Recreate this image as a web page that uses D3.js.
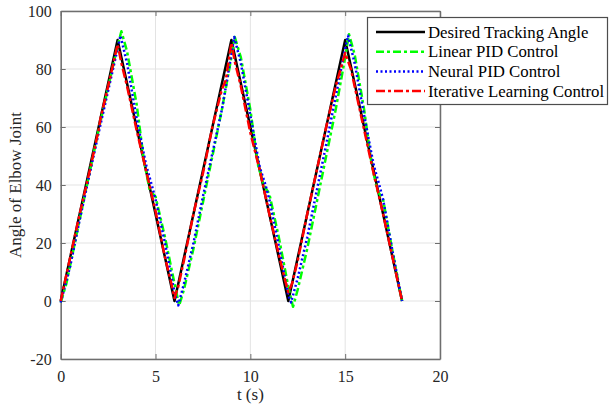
<!DOCTYPE html>
<html><head><meta charset="utf-8">
<script src="https://cdn.jsdelivr.net/npm/d3@7"></script>
<style>body{margin:0;background:#fff}svg{display:block}text{font-family:'Liberation Serif','Times New Roman',serif}</style>
</head><body>
<svg id="c" width="609" height="407"></svg>
<script>
const xTicks = [0,5,10,15,20];
const yTicks = [-20,0,20,40,60,80,100];
const seriesNames = ["Desired Tracking Angle","Linear PID Control","Neural PID Control","Iterative Learning Control"];
const seriesColors = ["#000000","#00ff00","#0000ff","#ff0000"];

const desiredT = [0,3,6,9,12,15,18];
const desiredV = [0,90,0,90,0,90,0];

const linearT = [0,0.3,1,2,3.0,3.2,3.5,4.0,4.4,4.7,5.0,5.5,6.0,6.25,6.5,7.0,7.5,8.0,8.5,9.0,9.18,9.5,10.0,10.4,10.7,11.0,11.5,12.0,12.25,12.5,13.0,13.5,14.0,14.5,15.0,15.2,15.5,16.0,16.4,16.7,17.0,17.5,18.0];
const linearV = [-0.5,6,28,59,88,93,86,68,48,38,36,22,6,-1.5,4,18,34,50,66,84,91,84,66,47,40,37,22,5,-2,4,18,34,50,66,84,92,85,66,47,38,35,17,0];

const neuralT = [0,0.5,1,2,3.0,3.15,3.5,4.0,4.5,4.8,5.0,5.5,6.0,6.2,6.5,7,7.5,8,8.5,9,9.15,9.5,10,10.5,10.8,11,11.5,12,12.15,12.5,13,14,15,15.15,15.5,16,16.5,16.8,17,17.5,18];
const neuralV = [-0.5,12,28,58,87,91.5,82,63,47,40,35,20,3,-1.5,6,20,36,51,66,85,91,82,64,46,40,35,19,2,-0.5,8,22,54,87,91.5,82,64,47,40,35,17,0];

const ilcT = [0,0.5,1,1.5,2.0,2.1,2.5,3.0,3.2,3.5,4,4.5,5,5.5,5.8,6.0,6.2,6.5,7,7.5,8,8.5,8.7,9.0,9.2,9.5,10,10.5,11,11.5,11.8,12,12.2,12.5,13,13.5,14,14.5,15,15.3,15.5,16,16.5,17,17.5,18];
const ilcV = [0,15,30,44,59,63,74,88.5,82,74,59,45,31,15,7,1,5,14,30,44,60,73,76,89,82,74,58,45,30,16,8,3,6,14,30,45,60,74,85.5,80,74,59,44,30,15,0];

const svg = d3.select("#c");
const font = "'Liberation Serif','Times New Roman',serif";
const x = d3.scaleLinear().domain([0,20]).range([60.7,440]);
const y = d3.scaleLinear().domain([-20,100]).range([359,11]);
const axisCol = "#6e6e6e";

// grid
svg.append("g").selectAll("line").data(xTicks).join("line")
  .attr("x1",d=>x(d)).attr("x2",d=>x(d)).attr("y1",y(-20)).attr("y2",y(100))
  .attr("stroke","#e3e3e3").attr("stroke-width",1);
svg.append("g").selectAll("line").data(yTicks).join("line")
  .attr("y1",d=>y(d)).attr("y2",d=>y(d)).attr("x1",x(0)).attr("x2",x(20))
  .attr("stroke","#e3e3e3").attr("stroke-width",1);

// axes
const fmt = d=>String(d);
const xb = d3.axisBottom(x).tickValues(xTicks).tickFormat(fmt).tickSizeInner(-5).tickSizeOuter(0).tickPadding(12);
const xt = d3.axisTop(x).tickValues(xTicks).tickSizeInner(-5).tickSizeOuter(0).tickFormat("");
const yl = d3.axisLeft(y).tickValues(yTicks).tickFormat(fmt).tickSizeInner(-5).tickSizeOuter(0).tickPadding(9);
const yr = d3.axisRight(y).tickValues(yTicks).tickSizeInner(-5).tickSizeOuter(0).tickFormat("");
function style(g){
  g.attr("font-family",font).attr("font-size",16);
  g.selectAll("path").attr("stroke",axisCol).attr("stroke-width",1.5);
  g.selectAll("line").attr("stroke",axisCol);
  g.selectAll("text").attr("font-family",font).attr("font-size",16).attr("fill","#262626");
}
svg.append("g").attr("transform",`translate(0,${y(-20)})`).call(xb).call(style);
svg.append("g").attr("transform",`translate(0,${y(100)})`).call(xt).call(style);
svg.append("g").attr("transform",`translate(${x(0)},0)`).call(yl).call(style);
svg.append("g").attr("transform",`translate(${x(20)},0)`).call(yr).call(style);

// lines
const line = d3.line().x(d=>x(d[0])).y(d=>y(d[1]));
const zip = (a,b)=>a.map((t,i)=>[t,b[i]]);
const series = [
  {data: zip(desiredT,desiredV), dash: null},
  {data: zip(linearT,linearV), dash: "8,3,3,3"},
  {data: zip(neuralT,neuralV), dash: "2,2.5"},
  {data: zip(ilcT,ilcV), dash: "9,3,3,3"}
];
series.forEach((s,i)=>{
  svg.append("path").attr("d",line(s.data)).attr("fill","none")
    .attr("stroke",seriesColors[i]).attr("stroke-width",2.5)
    .attr("stroke-dasharray",s.dash).attr("stroke-linejoin","round");
});

// labels
svg.append("text").attr("x",(x(0)+x(20))/2).attr("y",400).attr("text-anchor","middle")
  .attr("font-family",font).attr("font-size",17).attr("fill","#262626").text("t (s)");
svg.append("text").attr("transform",`translate(21,${(y(-20)+y(100))/2}) rotate(-90)`)
  .attr("text-anchor","middle").attr("font-family",font).attr("font-size",17).attr("fill","#262626")
  .text("Angle of Elbow Joint");

// legend
const lg = svg.append("g");
lg.append("rect").attr("x",367.5).attr("y",17.5).attr("width",240).attr("height",87)
  .attr("fill","#fff").attr("stroke","#4d4d4d").attr("stroke-width",1.2);
seriesNames.forEach((n,i)=>{
  const yy = 32 + i*19.7;
  lg.append("line").attr("x1",376).attr("x2",425).attr("y1",yy).attr("y2",yy)
    .attr("stroke",seriesColors[i]).attr("stroke-width",2.5)
    .attr("stroke-dasharray",series[i].dash);
  lg.append("text").attr("x",428).attr("y",yy+5.5).attr("font-family",font)
    .attr("font-size",16.8).attr("fill","#000").text(n);
});
</script>
</body></html>
